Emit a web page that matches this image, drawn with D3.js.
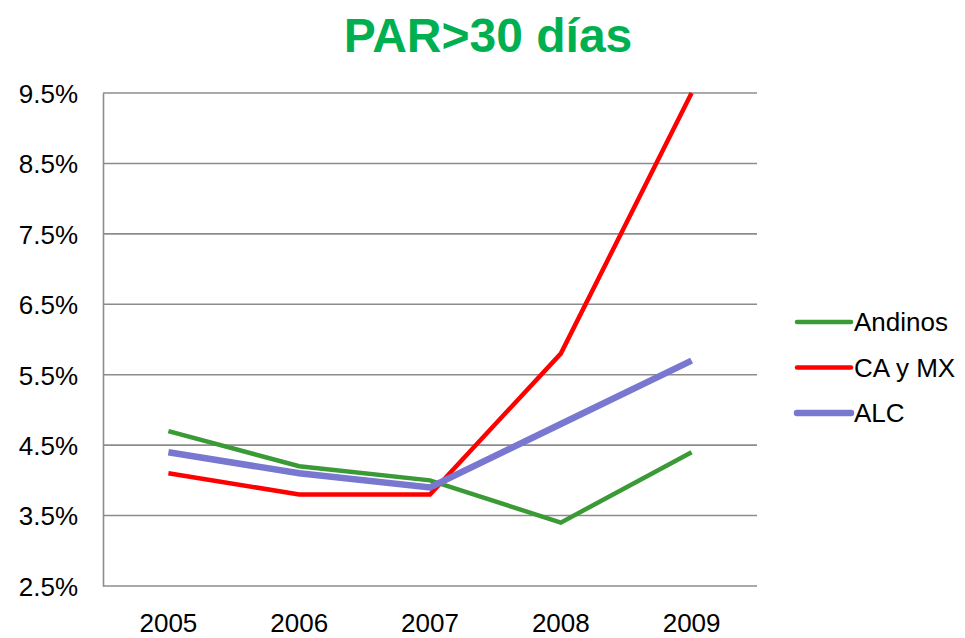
<!DOCTYPE html>
<html>
<head>
<meta charset="utf-8">
<script src="https://cdn.jsdelivr.net/npm/d3@7"></script>
<style>
  body { margin: 0; background: #fff; }
  text { font-family: Arial, "Liberation Sans", sans-serif; }
</style>
</head>
<body>
<svg id="chart"></svg>
<script>
// data
const years = ['2005', '2006', '2007', '2008', '2009'];
const andinos = [4.7, 4.2, 4.0, 3.4, 4.4];
const caMx = [4.1, 3.8, 3.8, 5.8, 9.5];
const alc = [4.4, 4.1, 3.9, 4.8, 5.7];
const yTicks = [2.5, 3.5, 4.5, 5.5, 6.5, 7.5, 8.5, 9.5];

const series = [
    { name: 'Andinos', values: andinos, color: '#3a9a35', width: 4.5 },
    { name: 'CA y MX', values: caMx, color: '#ff0000', width: 4.5 },
    { name: 'ALC', values: alc, color: '#7878d0', width: 6.5 }
];

const config = {
    width: 965, height: 638,
    margin: { top: 93, left: 103, right: 208, bottom: 52 }
};

const svg = d3.select('#chart')
    .attr('width', config.width)
    .attr('height', config.height);

const innerW = config.width - config.margin.left - config.margin.right;
const innerH = config.height - config.margin.top - config.margin.bottom;

const chart = svg.append('g')
    .attr('transform', `translate(${config.margin.left},${config.margin.top})`);

const xScale = d3.scaleBand()
    .domain(years)
    .range([0, innerW]);

const yScale = d3.scaleLinear()
    .domain([2.5, 9.5])
    .range([innerH, 0]);

// title
svg.append('text')
    .attr('x', 488)
    .attr('y', 52)
    .attr('text-anchor', 'middle')
    .style('font-size', '48px')
    .style('font-weight', 'bold')
    .style('fill', '#00b050')
    .text('PAR>30 días');

// gridlines
chart.append('g')
    .selectAll('line')
    .data(yTicks)
    .enter()
    .append('line')
    .attr('x1', 0)
    .attr('x2', innerW)
    .attr('y1', d => yScale(d))
    .attr('y2', d => yScale(d))
    .attr('stroke', '#8c8c8c')
    .attr('stroke-width', 1.6);

// y axis
const yAxis = d3.axisLeft(yScale)
    .tickValues(yTicks)
    .tickSize(0)
    .tickPadding(25)
    .tickFormat(d => d.toFixed(1) + '%');

const yAxisG = chart.append('g').call(yAxis);
yAxisG.select('.domain').attr('stroke', '#8c8c8c').attr('stroke-width', 1.6);
yAxisG.selectAll('text')
    .style('font-size', '26px')
    .style('fill', '#000')
    .attr('dy', '0.36em');

// x axis, labels sit on a baseline just above the bottom edge
const xAxis = d3.axisBottom(xScale)
    .tickSize(0)
    .tickPadding(0);

const xAxisG = chart.append('g')
    .attr('transform', `translate(0,${innerH})`)
    .call(xAxis);
xAxisG.select('.domain').remove();
xAxisG.selectAll('text')
    .attr('y', 46)
    .attr('dy', 0)
    .style('font-size', '26px')
    .style('fill', '#000');

// lines
const line = d3.line()
    .x((d, i) => xScale(years[i]) + xScale.bandwidth() / 2)
    .y(d => yScale(d));

chart.selectAll('.series')
    .data(series)
    .enter()
    .append('path')
    .attr('class', 'series')
    .attr('d', d => line(d.values))
    .attr('fill', 'none')
    .attr('stroke', d => d.color)
    .attr('stroke-width', d => d.width)
    .attr('stroke-linejoin', 'miter');

// legend
const legend = svg.append('g')
    .attr('transform', 'translate(797,322)');

const item = legend.selectAll('g')
    .data(series)
    .enter()
    .append('g')
    .attr('transform', (d, i) => `translate(0,${i * 45.5})`);

item.append('line')
    .attr('x1', 0)
    .attr('x2', 54)
    .attr('stroke', d => d.color)
    .attr('stroke-width', d => d.width)
    .attr('stroke-linecap', 'round');

item.append('text')
    .attr('x', 57)
    .attr('dy', '0.36em')
    .style('font-size', '26px')
    .text(d => d.name);
</script>
</body>
</html>
